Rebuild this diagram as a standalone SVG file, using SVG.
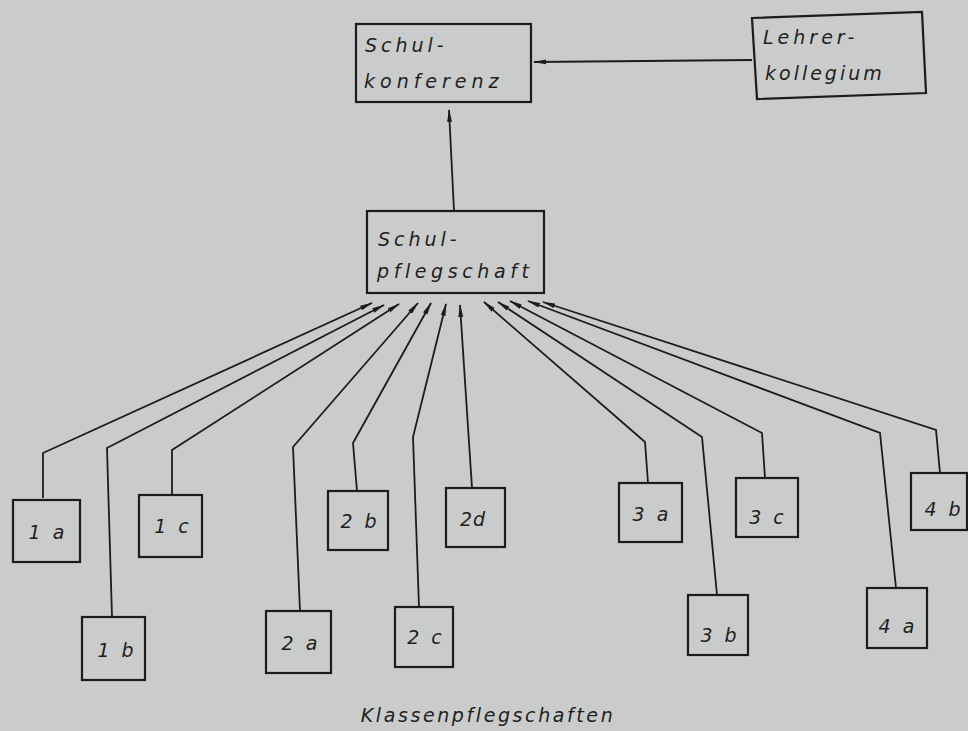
<svg xmlns="http://www.w3.org/2000/svg" width="968" height="731" viewBox="0 0 968 731">
<defs>
<marker id="ah" markerWidth="13" markerHeight="6" refX="12" refY="3" orient="auto" markerUnits="userSpaceOnUse">
<path d="M0,0.6 L13,3 L0,5.4 z" fill="#1c1c1c"/>
</marker>
</defs>
<style>
.bx{fill:none;stroke:#1c1c1c;stroke-width:2.2}
.t{font-family:"DejaVu Sans",sans-serif;font-style:oblique;font-size:19px;fill:#1e1e1e;letter-spacing:3.5px}
.lb{font-family:"DejaVu Sans",sans-serif;font-style:oblique;font-size:19px;fill:#1e1e1e;text-anchor:middle;letter-spacing:3px}
.c{fill:none;stroke:#1c1c1c;stroke-width:1.8;marker-end:url(#ah)}
</style>
<rect x="0" y="0" width="968" height="731" fill="#c9cccb"/>
<g id="connectors">
<polyline class="c" points="752,60 534,62"/>
<polyline class="c" points="454,211 449,110"/>
<polyline class="c" points="43,498 43,453 372,303"/>
<polyline class="c" points="112,617 107,448 384,305"/>
<polyline class="c" points="172,495 172,450 399,304"/>
<polyline class="c" points="300,611 293,447 418,303"/>
<polyline class="c" points="357,491 353,443 431,303"/>
<polyline class="c" points="419,607 413,437 446,304"/>
<polyline class="c" points="472,488 460,305"/>
<polyline class="c" points="648,483 645,442 484,302"/>
<polyline class="c" points="717,595 702,437 498,302"/>
<polyline class="c" points="765,478 762,433 510,301"/>
<polyline class="c" points="896,588 880,433 528,301"/>
<polyline class="c" points="940,473 936,430 543,302"/>
</g>
<g id="schulkonferenz">
<rect class="bx" x="356" y="24" width="175" height="78"/>
<text class="t" x="365" y="52" style="letter-spacing:4px">Schul-</text>
<text class="t" x="364" y="88" style="letter-spacing:5px">konferenz</text>
</g>
<g id="lehrerkollegium">
<polygon class="bx" points="752,18 922,12 926,93 757,99"/>
<text class="t" x="763" y="44" style="letter-spacing:4px">Lehrer-</text>
<text class="t" x="765" y="80" style="letter-spacing:3px">kollegium</text>
</g>
<g id="schulpflegschaft">
<rect class="bx" x="367" y="211" width="177" height="82"/>
<text class="t" x="378" y="246" style="letter-spacing:4px">Schul-</text>
<text class="t" x="377" y="278" style="letter-spacing:4.6px">pflegschaft</text>
</g>
<g id="k1a"><rect class="bx" x="13" y="500" width="67" height="62"/><text class="lb" x="48" y="539">1 a</text></g>
<g id="k1b"><rect class="bx" x="82" y="617" width="63" height="63"/><text class="lb" x="117" y="657">1 b</text></g>
<g id="k1c"><rect class="bx" x="139" y="495" width="63" height="62"/><text class="lb" x="173" y="533">1 c</text></g>
<g id="k2a"><rect class="bx" x="266" y="611" width="65" height="62"/><text class="lb" x="301" y="650">2 a</text></g>
<g id="k2b"><rect class="bx" x="328" y="491" width="60" height="59"/><text class="lb" x="360" y="528">2 b</text></g>
<g id="k2c"><rect class="bx" x="395" y="607" width="58" height="60"/><text class="lb" x="426" y="644">2 c</text></g>
<g id="k2d"><rect class="bx" x="446" y="488" width="59" height="59"/><text class="lb" x="473" y="526" style="letter-spacing:1px">2d</text></g>
<g id="k3a"><rect class="bx" x="619" y="483" width="63" height="59"/><text class="lb" x="652" y="521">3 a</text></g>
<g id="k3b"><rect class="bx" x="688" y="595" width="60" height="60"/><text class="lb" x="720" y="642">3 b</text></g>
<g id="k3c"><rect class="bx" x="736" y="478" width="62" height="59"/><text class="lb" x="768" y="524">3 c</text></g>
<g id="k4a"><rect class="bx" x="867" y="588" width="60" height="60"/><text class="lb" x="898" y="633">4 a</text></g>
<g id="k4b"><rect class="bx" x="911" y="473" width="56" height="57"/><text class="lb" x="944" y="516">4 b</text></g>
<text class="t" x="488" y="722" text-anchor="middle" style="letter-spacing:2.6px">Klassenpflegschaften</text>
</svg>
